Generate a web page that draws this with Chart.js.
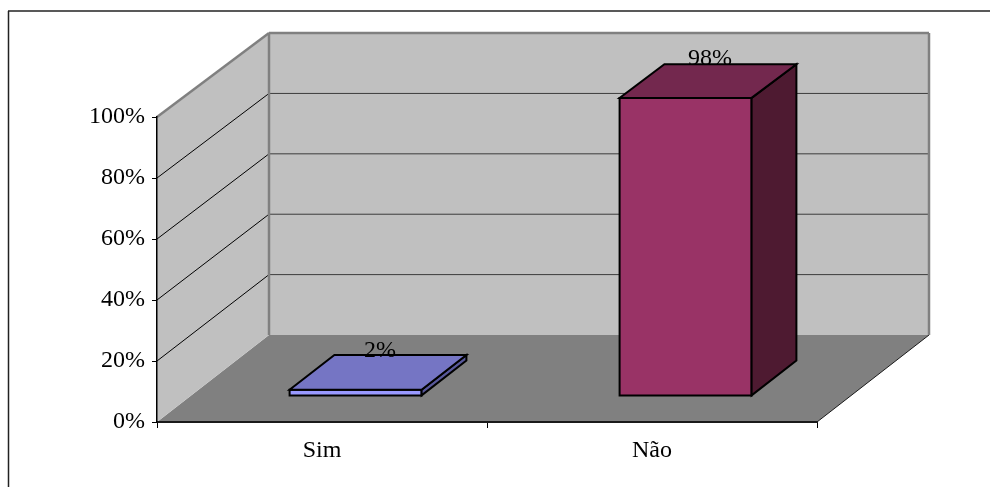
<!DOCTYPE html>
<html>
<head>
<meta charset="utf-8">
<script src="https://cdn.jsdelivr.net/npm/chart.js@4/dist/chart.umd.min.js"></script>
<style>
  html, body { margin: 0; padding: 0; background: #ffffff; }
  #wrap { width: 990px; height: 487px; position: relative; }
</style>
</head>
<body>
<div id="wrap"><canvas id="c" width="990" height="487"></canvas></div>
<script>
// Answers to the question: share of "Sim" and "Não"
const categories = ['Sim', 'Não'];
const shares = [0.02, 0.98];
const yTickValues = [0, 0.2, 0.4, 0.6, 0.8, 1];

const FONT_FAMILY = '"Liberation Serif", "Times New Roman", serif';
// Oblique 3D projection: offset of the back plane relative to the front plane
const DEPTH_X = 112;
const DEPTH_Y = -87;
const BACK_SHRINK = 0.01;
// Bars occupy this slice of the floor depth
const BAR_NEAR = 0.3;
const BAR_FAR = 0.7;

const faceColors = [
  { front: '#9999FF', top: '#7575C4', side: '#58589A' },
  { front: '#993366', top: '#73284E', side: '#4E1A31' }
];

const pct = v => Math.round(v * 100) + '%';

function projector(chart) {
  const base = chart.scales.y.getPixelForValue(0);
  return (x, y, d) => [x + d * DEPTH_X, base + (y - base) * (1 - d * BACK_SHRINK) + d * DEPTH_Y];
}

function fillPoly(ctx, pts, fill, stroke, lw) {
  ctx.beginPath();
  ctx.moveTo(pts[0][0], pts[0][1]);
  for (let i = 1; i < pts.length; i++) ctx.lineTo(pts[i][0], pts[i][1]);
  ctx.closePath();
  if (fill) { ctx.fillStyle = fill; ctx.fill(); }
  if (stroke) { ctx.strokeStyle = stroke; ctx.lineWidth = lw; ctx.stroke(); }
}

function line(ctx, a, b, color, lw) {
  ctx.beginPath();
  ctx.moveTo(a[0], a[1]);
  ctx.lineTo(b[0], b[1]);
  ctx.strokeStyle = color;
  ctx.lineWidth = lw;
  ctx.stroke();
}

// Frame, walls, floor and gridlines of the 3D plot area
const wallsPlugin = {
  id: 'walls3d',
  beforeDraw(chart) {
    const ctx = chart.ctx;
    const ca = chart.chartArea;
    const ys = chart.scales.y;
    const p = projector(chart);
    const L = ca.left, R = ca.right;
    const T = ys.getPixelForValue(1), B = ys.getPixelForValue(0);

    ctx.save();
    ctx.lineCap = 'butt';
    ctx.lineJoin = 'miter';

    // outer frame (top and left edges)
    line(ctx, [8, 11], [chart.width, 11], '#222222', 1.5);
    line(ctx, [8.5, 11], [8.5, chart.height], '#222222', 1.5);

    // floor
    fillPoly(ctx, [p(L, B, 0), p(R, B, 0), p(R, B, 1), p(L, B, 1)], '#808080');
    line(ctx, p(R, B, 0), p(R, B, 1), '#1a1a1a', 1);
    // back wall
    fillPoly(ctx, [p(L, T, 1), p(R, T, 1), p(R, B, 1), p(L, B, 1)], '#C0C0C0');
    // side wall
    fillPoly(ctx, [p(L, T, 0), p(L, T, 1), p(L, B, 1), p(L, B, 0)], '#C0C0C0');

    // gridlines on back and side walls
    ys.ticks.forEach(t => {
      if (t.value <= 0 || t.value >= 1) return;
      const y = ys.getPixelForValue(t.value);
      line(ctx, p(L, y, 1), p(R, y, 1), '#3c3c3c', 1);
      line(ctx, p(L, y, 0), p(L, y, 1), '#000000', 1);
    });

    // wall edges
    line(ctx, p(L, T, 0), p(L, T, 1), '#808080', 2.5);
    line(ctx, p(L, T, 1), p(R, T, 1), '#808080', 2.5);
    line(ctx, p(L, T, 1), p(L, B, 1), '#808080', 2.5);
    line(ctx, p(R, T, 1), p(R, B, 1), '#808080', 2.5);
    ctx.restore();
  }
};

// Bars drawn as boxes from the bar elements laid out by the category/linear scales
const boxesPlugin = {
  id: 'boxes3d',
  beforeDatasetsDraw(chart) {
    const ctx = chart.ctx;
    const p = projector(chart);
    const meta = chart.getDatasetMeta(0);
    const data = chart.data.datasets[0].data;
    ctx.save();
    ctx.lineJoin = 'miter';
    meta.data.forEach((el, i) => {
      const { x, y, base, width } = el.getProps(['x', 'y', 'base', 'width'], true);
      const xl = x - width / 2, xr = x + width / 2;
      const n = BAR_NEAR, f = BAR_FAR;
      const c = faceColors[i];
      const top = [p(xl, y, n), p(xr, y, n), p(xr, y, f), p(xl, y, f)];
      fillPoly(ctx, [p(xl, y, n), p(xr, y, n), p(xr, base, n), p(xl, base, n)], c.front, '#000000', 2);
      fillPoly(ctx, [p(xr, y, n), p(xr, y, f), p(xr, base, f), p(xr, base, n)], c.side, '#000000', 2);
      fillPoly(ctx, top, c.top, '#000000', 2);

      const cx = top.reduce((s, q) => s + q[0], 0) / 4;
      const cy = top.reduce((s, q) => s + q[1], 0) / 4;
      ctx.fillStyle = '#000000';
      ctx.font = '24px ' + FONT_FAMILY;
      ctx.textAlign = 'center';
      ctx.textBaseline = 'middle';
      ctx.fillText(pct(data[i]), cx + 2, cy - 22);
    });
    ctx.restore();
    return false;
  }
};

new Chart(document.getElementById('c'), {
  type: 'bar',
  data: {
    labels: categories,
    datasets: [{
      data: shares,
      backgroundColor: faceColors.map(c => c.front),
      categoryPercentage: 1,
      barPercentage: 0.4
    }]
  },
  options: {
    responsive: false,
    devicePixelRatio: 1,
    animation: false,
    layout: { padding: { left: 0, right: 173, top: 117, bottom: 0 } },
    plugins: { legend: { display: false }, tooltip: { enabled: false } },
    scales: {
      x: {
        offset: true,
        afterFit(axis) { axis.height = 65; },
        grid: { offset: true, drawOnChartArea: false, drawTicks: true, tickLength: 6, color: '#000000', lineWidth: 1 },
        border: { display: true, color: '#1a1a1a', width: 2 },
        ticks: { color: '#000000', font: { family: FONT_FAMILY, size: 24 }, padding: 8, maxRotation: 0 }
      },
      y: {
        min: 0,
        max: 1,
        afterFit(axis) { axis.width = 157; },
        afterBuildTicks(axis) { axis.ticks = yTickValues.map(v => ({ value: v })); },
        grid: { drawOnChartArea: false, drawTicks: true, tickLength: 5, color: '#000000', lineWidth: 1 },
        border: { display: true, color: '#000000', width: 1.5 },
        ticks: { color: '#000000', font: { family: FONT_FAMILY, size: 24 }, padding: 7, callback: v => pct(v) }
      }
    }
  },
  plugins: [wallsPlugin, boxesPlugin]
});
</script>
</body>
</html>
